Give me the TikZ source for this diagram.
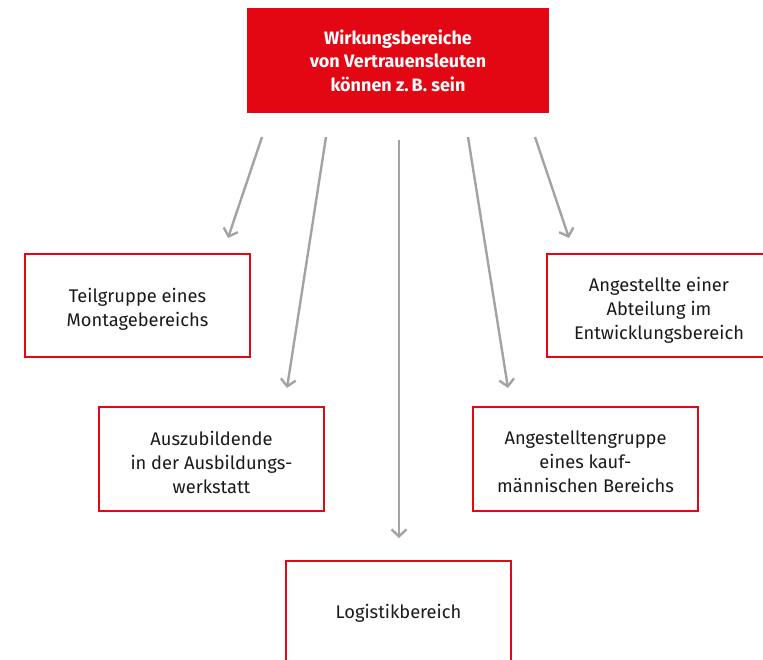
\documentclass[tikz,border=0pt]{standalone}
\usepackage{fontspec}
\setmainfont{Fira Sans}
\usetikzlibrary{arrows.meta}
\definecolor{brandred}{HTML}{E30613}
\definecolor{arrowgray}{HTML}{A3A3A3}
\definecolor{textdark}{HTML}{1A1A1A}
\begin{document}
\begin{tikzpicture}[x=1pt,y=-1pt,
  areabox/.style={draw=brandred,line width=2pt,fill=white,inner sep=0pt},
  areatext/.style={text=textdark,align=center,
    font=\fontsize{18.3}{24}\selectfont,inner sep=0pt},
  headbox/.style={fill=brandred,text=white,align=center,
    font=\bfseries\fontsize{18}{23.5}\selectfont,inner sep=0pt},
  link/.style={draw=arrowgray,line width=2.4pt,
    -{Straight Barb[length=7pt,width=15pt,line width=2.4pt]}}]
  \useasboundingbox (0,0) rectangle (763,659);
  % heading
  \node[headbox,minimum width=302pt,minimum height=105pt] (head) at (398,60.5)
    {Wirkungsbereiche\\von Vertrauensleuten\\können z.\,B. sein};
  % area frames
  \node[areabox,minimum width=225pt,minimum height=103pt] (team) at (137.5,305.5) {};
  \node[areabox,minimum width=225pt,minimum height=104pt] (trainee) at (211.5,459) {};
  \node[areabox,minimum width=225pt,minimum height=120pt] (logistics) at (398.5,621) {};
  \node[areabox,minimum width=230pt,minimum height=103pt] (devel) at (662,305.5) {};
  \node[areabox,minimum width=225pt,minimum height=104pt] (office) at (585.5,459) {};
  % area labels
  \node[areatext] (teamtext) at ([yshift=-4pt]team.center)
    {Teilgruppe eines\\Montagebereichs};
  \node[areatext] (traineetext) at ([yshift=-3pt]trainee.center)
    {Auszubildende\\in der Ausbildungs-\\werkstatt};
  \node[areatext] (logtext) at (398.5,613) {Logistikbereich};
  \node[areatext] (develtext) at ([xshift=-3pt,yshift=-4.5pt]devel.center)
    {Angestellte einer\\Abteilung im\\Entwicklungsbereich};
  \node[areatext] (officetext) at ([yshift=-3pt]office.center)
    {Angestelltengruppe\\eines kauf-\\männischen Bereichs};
  % connector ends
  \coordinate (s1) at (262,137); \coordinate (e1) at (228,238);
  \coordinate (s2) at (326,137); \coordinate (e2) at (287,388);
  \coordinate (s3) at (399,140); \coordinate (e3) at (399,538);
  \coordinate (s4) at (468,137); \coordinate (e4) at (508,388);
  \coordinate (s5) at (535,137); \coordinate (e5) at (569,238);
  \draw[link] (s1) -- (e1);
  \draw[link] (s2) -- (e2);
  \draw[link] (s3) -- (e3);
  \draw[link] (s4) -- (e4);
  \draw[link] (s5) -- (e5);
\end{tikzpicture}
\end{document}
